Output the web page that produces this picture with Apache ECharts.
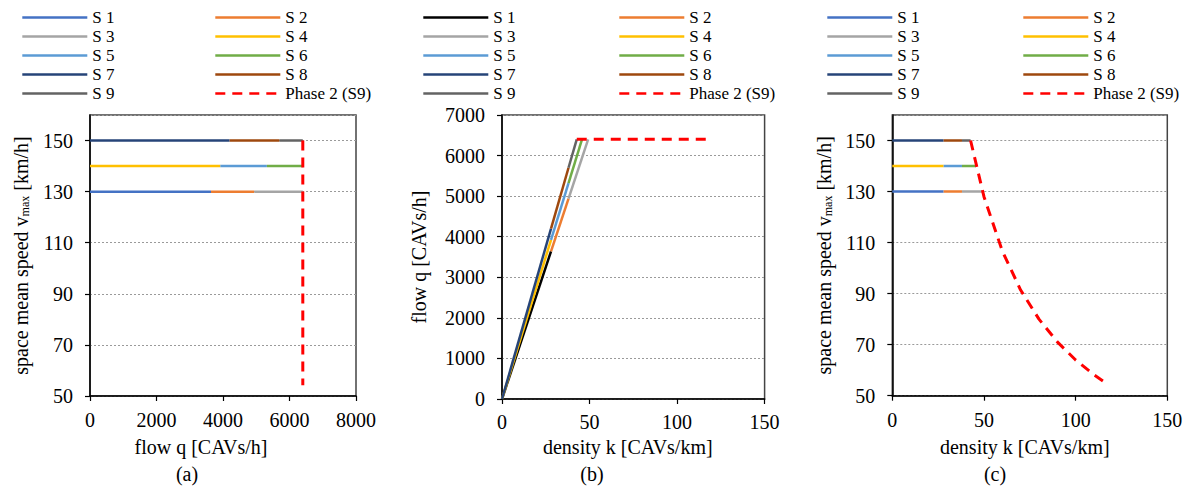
<!DOCTYPE html>
<html>
<head>
<meta charset="utf-8">
<title>Fundamental diagrams of CAV traffic</title>
<script src="https://cdn.jsdelivr.net/npm/echarts@6/dist/echarts.min.js"></script>
<style>
  html, body { margin: 0; padding: 0; background: #ffffff; }
  #wrap { position: relative; width: 1187px; height: 487px; overflow: hidden; }
  .panel { position: absolute; top: 0; height: 487px; }
</style>
</head>
<body>
<div id="wrap">
  <div id="panelA" class="panel" style="left:0;width:395px"></div>
  <div id="panelB" class="panel" style="left:395px;width:395px"></div>
  <div id="panelC" class="panel" style="left:790px;width:397px"></div>
</div>
<script>
// Scenario names and their parameters
const seriesNames = ['S 1', 'S 2', 'S 3', 'S 4', 'S 5', 'S 6', 'S 7', 'S 8', 'S 9'];
// desired speed v_max of each scenario [km/h]
const speedLimit = [130, 130, 130, 140, 140, 140, 150, 150, 150];
// density range covered by each scenario [CAVs/km]
const densityFrom = [0, 28, 38, 0, 28, 38, 0, 28, 38];
const densityTo = [28, 38, 49.2, 28, 38, 45.7, 28, 38, 42.7];
// flow range covered by each scenario [CAVs/h]
const flowFrom = [0, 3640, 4940, 0, 3920, 5320, 0, 4200, 5700];
const flowTo = [3640, 4940, 6400, 3920, 5320, 6400, 4200, 5700, 6400];

// Phase 2 of scenario 9 (capacity-constrained branch)
const phase2Name = 'Phase 2 (S9)';
const phase2Density = [42.7, 50, 60, 70, 80, 90, 100, 110, 118];
const phase2Flow = [6400, 6400, 6400, 6400, 6400, 6400, 6400, 6400, 6400];
const phase2Speed = [150, 128, 106.7, 91.4, 80, 71.1, 64, 58.2, 54.2];

// Axis tick settings
const flowTicksA = { min: 0, max: 8000, interval: 2000 };
const speedTicks = { min: 50, max: 160, interval: 20 };
const densityTicks = { min: 0, max: 150, interval: 50 };
const flowTicksB = { min: 0, max: 7000, interval: 1000 };

const panelCaptions = ['(a)', '(b)', '(c)'];

const paletteAC = ['#4472C4', '#ED7D31', '#A5A5A5', '#FFC000', '#5B9BD5', '#70AD47', '#264478', '#9E480E', '#636363'];
const paletteB = ['#000000', '#ED7D31', '#A5A5A5', '#FFC000', '#5B9BD5', '#70AD47', '#264478', '#9E480E', '#636363'];
const phase2Color = '#FF0000';

const FONT = '"Liberation Serif", "Times New Roman", serif';
const TICK_SIZE = 20;
const NAME_SIZE = 20;
const LEGEND_SIZE = 17;

function legends(col1Left, col2Left) {
  const common = {
    orient: 'vertical',
    top: 9,
    padding: 0,
    itemWidth: 65,
    itemHeight: 17,
    itemGap: 2,
    selectedMode: false,
    itemStyle: { opacity: 0 },
    lineStyle: { width: 2.6 },
    textStyle: { fontFamily: FONT, fontSize: LEGEND_SIZE, lineHeight: 17, color: '#000' }
  };
  return [
    Object.assign({ left: col1Left, data: ['S 1', 'S 3', 'S 5', 'S 7', 'S 9'] }, common),
    Object.assign({ left: col2Left, data: ['S 2', 'S 4', 'S 6', 'S 8', phase2Name] }, common)
  ];
}

function plainNumber(v) { return String(v); }

function valueAxis(ticks, name, nameGap, labelMargin, extra) {
  return Object.assign({
    type: 'value',
    min: ticks.min,
    max: ticks.max,
    interval: ticks.interval,
    name: name,
    nameLocation: 'middle',
    nameGap: nameGap,
    nameTextStyle: { fontFamily: FONT, fontSize: NAME_SIZE, color: '#000' },
    axisLine: { show: true, onZero: false, lineStyle: { color: '#000', width: 1.5 } },
    axisTick: { show: true, inside: false, length: 5, lineStyle: { color: '#000', width: 1.2 } },
    axisLabel: { fontFamily: FONT, fontSize: TICK_SIZE, color: '#000', margin: labelMargin, formatter: plainNumber },
    splitLine: { show: false }
  }, extra || {});
}

function gridSplit() {
  return { show: true, lineStyle: { color: '#9a9a9a', width: 1, type: [2, 2] } };
}

const speedAxisName = '{n|space mean speed v}{s|max}{n| [km/h]}';
const speedNameRich = {
  n: { fontFamily: FONT, fontSize: NAME_SIZE, color: '#000' },
  s: { fontFamily: FONT, fontSize: 12, color: '#000', verticalAlign: 'bottom', padding: [6, 0, 0, 0] }
};

function scenarioSeries(palette, xOf, yOf) {
  return seriesNames.map(function (name, i) {
    return {
      type: 'line',
      name: name,
      data: [[xOf(i, 'from'), yOf(i, 'from')], [xOf(i, 'to'), yOf(i, 'to')]],
      showSymbol: false,
      symbol: 'none',
      color: palette[i],
      lineStyle: { color: palette[i], width: 2.5 },
      silent: true,
      z: 3
    };
  });
}

function phase2Series(xs, ys) {
  return {
    type: 'line',
    name: phase2Name,
    data: xs.map(function (x, i) { return [x, ys[i]]; }),
    showSymbol: false,
    symbol: 'none',
    color: phase2Color,
    lineStyle: { color: phase2Color, width: 3, type: [10, 7] },
    silent: true,
    z: 4
  };
}

function caption(text, x) {
  return { text: text, left: x, top: 464, textAlign: 'center', padding: 0,
    textStyle: { fontFamily: FONT, fontSize: NAME_SIZE, fontWeight: 'normal', color: '#000' } };
}

const gridBorder = { show: true, borderColor: '#444', borderWidth: 1.5, backgroundColor: 'transparent' };

// (a) speed vs flow
const chartA = echarts.init(document.getElementById('panelA'), null, { renderer: 'svg' });
chartA.setOption({
  animation: false,
  title: caption(panelCaptions[0], 187),
  legend: legends(21, 214),
  grid: Object.assign({ left: 90, top: 115, width: 266, height: 281 }, gridBorder),
  xAxis: valueAxis(flowTicksA, 'flow q [CAVs/h]', 41, 14, {
    nameTextStyle: { fontFamily: FONT, fontSize: NAME_SIZE, color: '#000', padding: [0, 44, 0, 0] }
  }),
  yAxis: valueAxis(speedTicks, speedAxisName, 59, 17, {
    nameTextStyle: { fontFamily: FONT, fontSize: NAME_SIZE, color: '#000', rich: speedNameRich },
    axisLabel: { fontFamily: FONT, fontSize: TICK_SIZE, color: '#000', margin: 17, showMaxLabel: false, formatter: plainNumber },
    splitLine: gridSplit()
  }),
  series: scenarioSeries(paletteAC,
    function (i, e) { return e === 'from' ? flowFrom[i] : flowTo[i]; },
    function (i) { return speedLimit[i]; }
  ).concat([phase2Series(phase2Flow, phase2Speed)])
});

// (b) flow vs density
const chartB = echarts.init(document.getElementById('panelB'), null, { renderer: 'svg' });
chartB.setOption({
  animation: false,
  title: caption(panelCaptions[1], 197),
  legend: legends(27, 223),
  grid: Object.assign({ left: 107, top: 115, width: 262.6, height: 284 }, gridBorder),
  xAxis: valueAxis(densityTicks, 'density k [CAVs/km]', 38, 13, {
    nameTextStyle: { fontFamily: FONT, fontSize: NAME_SIZE, color: '#000', padding: [0, 11, 0, 0] }
  }),
  yAxis: valueAxis(flowTicksB, 'flow q [CAVs/h]', 73, 17, {
    splitLine: gridSplit()
  }),
  series: scenarioSeries(paletteB,
    function (i, e) { return e === 'from' ? densityFrom[i] : densityTo[i]; },
    function (i, e) { return e === 'from' ? flowFrom[i] : flowTo[i]; }
  ).concat([phase2Series(phase2Density, phase2Flow)])
});

// (c) speed vs density
const chartC = echarts.init(document.getElementById('panelC'), null, { renderer: 'svg' });
chartC.setOption({
  animation: false,
  title: caption(panelCaptions[2], 205),
  legend: legends(36, 232),
  grid: Object.assign({ left: 102.3, top: 115, width: 275, height: 280.7 }, gridBorder),
  xAxis: valueAxis(densityTicks, 'density k [CAVs/km]', 41, 14, {
    nameTextStyle: { fontFamily: FONT, fontSize: NAME_SIZE, color: '#000', padding: [0, 10, 0, 0] }
  }),
  yAxis: valueAxis(speedTicks, speedAxisName, 55, 17, {
    nameTextStyle: { fontFamily: FONT, fontSize: NAME_SIZE, color: '#000', rich: speedNameRich },
    axisLabel: { fontFamily: FONT, fontSize: TICK_SIZE, color: '#000', margin: 17, showMaxLabel: false, formatter: plainNumber },
    splitLine: gridSplit()
  }),
  series: scenarioSeries(paletteAC,
    function (i, e) { return e === 'from' ? densityFrom[i] : densityTo[i]; },
    function (i) { return speedLimit[i]; }
  ).concat([phase2Series(phase2Density, phase2Speed)])
});
</script>
</body>
</html>
